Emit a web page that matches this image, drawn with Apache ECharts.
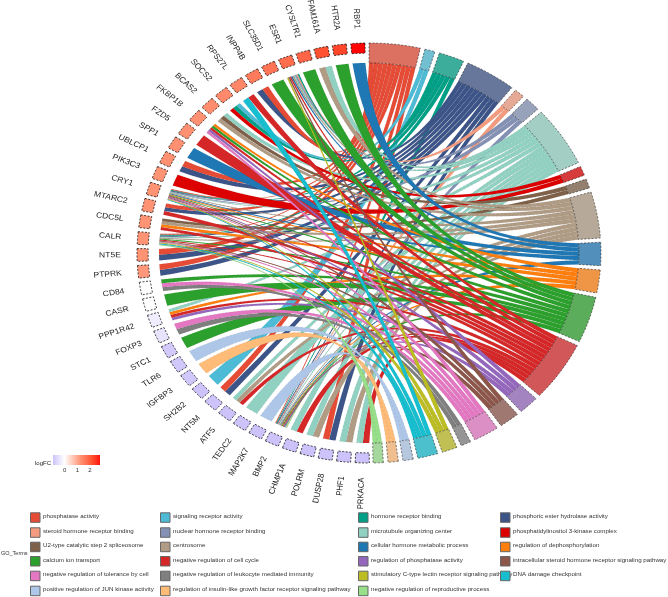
<!DOCTYPE html>
<html>
<head>
<meta charset="utf-8">
<style>html,body{margin:0;padding:0;background:#fff}#c{width:668px;height:597px;filter:blur(0.6px)}</style>
<script src="https://cdn.jsdelivr.net/npm/echarts@6/dist/echarts.min.js"></script>
</head>
<body>
<div id="c"></div>
<script>
const genes = ['RBP1','HTR2A','FAM161A','CYSLTR1','ESR1','SLC35D1','INPP4B','RPS27L','SOCS2','BCAS2','FKBP1B','FZD5','SPP1','UBLCP1','PIK3C3','CRY1','MTARC2','CDC5L','CALR','NT5E','PTPRK','CD84','CASR','PPP1R42','FOXP3','STC1','TLR6','IGFBP3','SH2B2','NT5M','ATF5','TEDC2','MAP2K7','BMP2','CHMP1A','POLRM','DUSP28','PHF1','PRKACA'];
const logFC = [2.95,2.3,2.2,1.9,1.8,1.7,1.6,1.45,1.4,1.35,1.3,1.3,1.3,1.3,1.25,1.25,1.25,1.25,1.25,1.25,1.2,0,0,-0.25,-0.4,-0.75,-0.8,-0.8,-0.85,-0.85,-0.85,-0.85,-0.85,-0.85,-0.85,-0.85,-0.85,-0.85,-0.85];
const terms = ['phosphatase activity','signaling receptor activity','hormone receptor binding','phosphoric ester hydrolase activity','steroid hormone receptor binding','nuclear hormone receptor binding','microtubule organizing center','phosphatidylinositol 3-kinase complex','U2-type catalytic step 2 spliceosome','centrosome','cellular hormone metabolic process','regulation of dephosphorylation','calcium ion transport','negative regulation of cell cycle','regulation of phosphatase activity','intracellular steroid hormone receptor signaling pathway','negative regulation of tolerance by cell','negative regulation of leukocyte mediated immunity','stimulatory C-type lectin receptor signaling pathway','DNA damage checkpoint','positive regulation of JUN kinase activity','regulation of insulin-like growth factor receptor signaling pathway','negative regulation of reproductive process'];
const termColors = ['#E64B35','#4DBBD5','#00A087','#3C5488','#F39B7F','#8491B4','#91D1C2','#DC0000','#7E6148','#B09C85','#1F77B4','#FF7F0E','#2CA02C','#D62728','#9467BD','#8C564B','#E377C2','#7F7F7F','#BCBD22','#17BECF','#AEC7E8','#FFBB78','#98DF8A'];
// for each gene, the terms (by index in `terms`) it belongs to
const geneTerms = [[10],[12],[6,9],[12],[2,4,5,6,9,10,13,15,18],[12],[0,3],[13,19],[1,2,7],[6,8,9],[11,12,13,14,16],[13],[10],[0,3],[7],
[0,2,3,5,6,9,10,11,12,13,14,15,16,18,19],[0,3,13],[8,9,11,13],[0,2,3,6,9,12,13,15,16,18,19,22],[0,3],[0,3],[12,16,17],[12],[6,11,13,14],[16,17],[12],[20],[21],[1],[0,3],[6,9,13],[6],[20],
[0,2,3,4,5,6,9,10,11,12,13,14,15,19,21,22],[6,13],[6,9],[0,3],[6,9],[6,13]];
const legendColumns = [
  [0,4,8,12,16,20],
  [1,5,9,13,17,21],
  [2,6,10,14,18,22],
  [3,7,11,15,19]
];
const colorbarTicks = [0,1,2];
const colorbarRange = [-0.9,2.8];
// colour scale: logFC value -> colour
const fcStops = [[-0.85,[205,195,250]],[0,[255,255,255]],[1.25,[255,148,117]],[2.2,[255,80,48]],[3,[255,0,0]]];

// ---------- layout of the ring (degrees clockwise from top, unit radius)
const R_OUT=1, R_GENE=0.952, R_RIB=0.905, R_LABEL=1.07, CTRL=0.07, STRETCH=232/210;
const TERM_END=179, TERM_GAP=1.16, GENE_FIRST=357.25, GENE_STEP=4.62, GENE_W=3.5;
const termCount = terms.map(()=>[]);
geneTerms.forEach((ts,g)=>ts.forEach(t=>termCount[t].push(g)));
const totalLinks = termCount.reduce((s,a)=>s+a.length,0);
const unit = (TERM_END-TERM_GAP*(terms.length-1))/totalLinks;
const termStart=[]; let cur=0;
terms.forEach((_,t)=>{termStart[t]=cur;cur+=termCount[t].length*unit+TERM_GAP;});
const links=[];
geneTerms.forEach((ts,g)=>ts.forEach((t,k)=>{
  const gHi=GENE_FIRST-g*GENE_STEP+GENE_W/2, w=GENE_W/ts.length;
  const pos=termCount[t].indexOf(g);
  links.push({g,t,a1:termStart[t]+pos*unit,a2:termStart[t]+(pos+1)*unit,gHi:gHi-k*w,gLo:gHi-(k+1)*w});
}));
links.sort((p,q)=>q.g-p.g||q.t-p.t);

const pol=(deg,r)=>{const a=deg*Math.PI/180;return [r*Math.sin(a),r*Math.cos(a)];};
function arc(a,b,r,n=10){const o=[];for(let i=0;i<=n;i++)o.push(pol(a+(b-a)*i/n,r));return o;}
function bez(p,q,n=32){
  const c=[CTRL*(p[0]+q[0]),CTRL*(p[1]+q[1])],o=[];
  for(let i=1;i<n;i++){const s=i/n,k=(1-s)*(1-s),m=s*s,h=2*s*(1-s);o.push([k*p[0]+h*c[0]+m*q[0],k*p[1]+h*c[1]+m*q[1]]);}
  return o;
}
function hex(c){return [1,3,5].map(i=>parseInt(c.substr(i,2),16));}
function mixGrey(c){const v=hex(c);return 'rgb('+v.map(x=>Math.round(x*0.7+200*0.3)).join(',')+')';}
function fcColor(v){
  if(v<=fcStops[0][0]) return 'rgb('+fcStops[0][1].join(',')+')';
  for(let i=1;i<fcStops.length;i++){
    if(v<=fcStops[i][0]){
      const a=fcStops[i-1],b=fcStops[i],t=(v-a[0])/(b[0]-a[0]);
      return 'rgb('+a[1].map((x,j)=>Math.round(x+(b[1][j]-x)*t)).join(',')+')';
    }
  }
  return 'rgb(255,0,0)';
}
const dashStroke={stroke:'rgba(30,30,30,0.8)',lineWidth:0.7,lineDash:[2,1.6]};

const ribbonSeries={type:'custom',coordinateSystem:'cartesian2d',silent:true,clip:false,z:2,
  data:links.map((l,i)=>[i,0]),encode:{x:0,y:1},
  renderItem(p,api){
    const l=links[api.value(0)];
    const a2=pol(l.a2,R_RIB),gl=pol(l.gLo,R_RIB),gh=pol(l.gHi,R_RIB),a1=pol(l.a1,R_RIB);
    const pts=[...arc(l.a1,l.a2,R_RIB,4),...bez(a2,gl),...arc(l.gLo,l.gHi,R_RIB,3),...bez(gh,a1)];
    return {type:'polygon',shape:{points:pts.map(q=>api.coord(q))},
      style:{fill:termColors[l.t],stroke:'rgba(40,40,40,0.25)',lineWidth:0.35,lineDash:[2,2]}};
  }};
const termSeries={type:'custom',coordinateSystem:'cartesian2d',silent:true,clip:false,z:3,
  data:terms.map((_,t)=>[t,0]),encode:{x:0,y:1},
  renderItem(p,api){
    const t=api.value(0),a=termStart[t],b=a+termCount[t].length*unit;
    const pts=[...arc(a,b,R_OUT,24),...arc(b,a,R_RIB,24)];
    return {type:'polygon',shape:{points:pts.map(q=>api.coord(q))},
      style:Object.assign({fill:mixGrey(termColors[t])},dashStroke)};
  }};
const geneSeries={type:'custom',coordinateSystem:'cartesian2d',silent:true,clip:false,z:3,
  data:genes.map((_,g)=>[g,logFC[g]]),encode:{x:0,y:1},
  renderItem(p,api){
    const g=api.value(0),c=GENE_FIRST-g*GENE_STEP;
    const pts=[...arc(c+GENE_W/2,c-GENE_W/2,R_OUT,5),...arc(c-GENE_W/2,c+GENE_W/2,R_GENE,5)];
    return {type:'polygon',shape:{points:pts.map(q=>api.coord(q))},
      style:Object.assign({fill:fcColor(api.value(1))},dashStroke,{stroke:'rgba(10,10,10,0.95)',lineWidth:0.8,lineDash:[2,1.5]})};
  }};
const labelSeries={type:'custom',coordinateSystem:'cartesian2d',silent:true,clip:false,z:4,
  data:genes.map((_,g)=>[g,0]),encode:{x:0,y:1},
  renderItem(p,api){
    const g=api.value(0),c=GENE_FIRST-g*GENE_STEP;
    const u=pol(c,R_LABEL),q=api.coord(u);
    // text direction points at the centre before the horizontal stretch of the plot
    const rot=-Math.atan2(u[1],-u[0]);
    return {type:'group',x:q[0],y:q[1],scaleX:STRETCH,children:[{type:'text',rotation:rot,
      style:{text:genes[g],align:'right',verticalAlign:'middle',fontFamily:'Liberation Sans',fontSize:7.7,fill:'#222'}}]};
  }};

// ---------- legend + colour bar
const legendX=[[30,43],[160,173],[358,371],[500,513]];
const legendY=[517.3,532.3,546.7,561,575.7,590.7];
const graphics=[];
legendColumns.forEach((col,ci)=>col.forEach((t,ri)=>{
  graphics.push({type:'rect',left:legendX[ci][0],top:legendY[ri]-5,shape:{width:9.5,height:9.5},
    style:{fill:termColors[t],stroke:'#666',lineWidth:1}});
  graphics.push({type:'text',left:legendX[ci][1],top:legendY[ri]-4,
    style:{text:terms[t],fontFamily:'Liberation Sans',fontSize:6.2,fill:'#333'}});
}));
graphics.push({type:'text',left:1,top:550,style:{text:'GO_Terms',fontFamily:'Liberation Sans',fontSize:5.5,fill:'#333'}});
const barX=53,barW=47,span=colorbarRange[1]-colorbarRange[0];
const barStops=[colorbarRange[0],0,1.25,2.2,colorbarRange[1]].map(v=>({offset:(v-colorbarRange[0])/span,color:fcColor(v)}));
graphics.push({type:'rect',left:barX,top:455,shape:{width:barW,height:10},
  style:{fill:{type:'linear',x:0,y:0,x2:1,y2:0,colorStops:barStops}}});
graphics.push({type:'text',left:35,top:460,style:{text:'logFC',fontFamily:'Liberation Sans',fontSize:6,fill:'#222'}});
colorbarTicks.forEach(v=>{
  const x=barX+barW*(v-colorbarRange[0])/span;
  graphics.push({type:'text',left:x-1.5,top:467,style:{text:String(v),fontFamily:'Liberation Sans',fontSize:6,fill:'#333'}});
});

const chart=echarts.init(document.getElementById('c'),null,{renderer:'canvas'});
chart.setOption({
  animation:false,backgroundColor:'#fff',
  grid:{left:137,width:464,top:43,height:420},
  xAxis:{type:'value',min:-1,max:1,show:false},
  yAxis:{type:'value',min:-1,max:1,show:false},
  graphic:graphics,
  series:[ribbonSeries,termSeries,geneSeries,labelSeries]
});
</script>
</body>
</html>
